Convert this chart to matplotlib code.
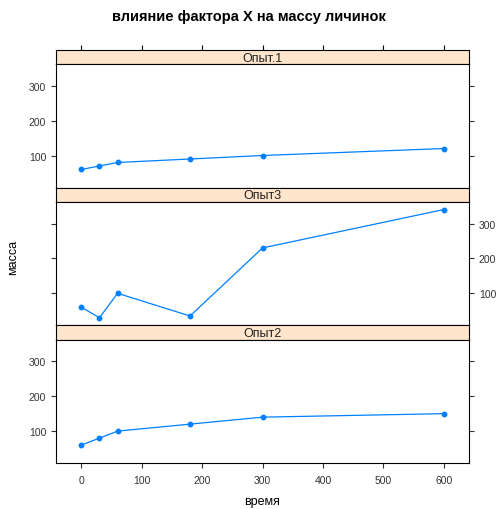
import numpy as np
import matplotlib
matplotlib.use('Agg')
import matplotlib.pyplot as plt

plt.rcParams['font.family'] = ['Liberation Sans', 'DejaVu Sans']

# данные
time = [0, 30, 60, 180, 300, 600]
panels = ['Опыт.1', 'Опыт3', 'Опыт2']
mass = {
    'Опыт.1': [60, 70, 80, 90, 100, 120],
    'Опыт3': [60, 30, 100, 35, 230, 340],
    'Опыт2': [60, 80, 100, 120, 140, 150],
}
yticks = [100, 200, 300]
xticks = [0, 100, 200, 300, 400, 500, 600]

# пределы как в lattice (отступ 7%)
def pad(lo, hi, p=0.07):
    d = (hi - lo) * p
    return lo - d, hi + d

all_y = np.concatenate([mass[k] for k in panels])
ylim = pad(all_y.min(), all_y.max())
xlim = pad(min(time), max(time))

W, H = 497, 510
fig = plt.figure(figsize=(W / 100, H / 100), dpi=100)

left, right = 56, 469
top = 50.7
strip_h = 14.5
plot_h = 123.3
col = '#0080ff'
strip_col = '#ffe5cc'

for i, name in enumerate(panels):
    y0 = top + i * (strip_h + plot_h)
    # полоска с названием
    sax = fig.add_axes([left / W, 1 - (y0 + strip_h) / H, (right - left) / W, strip_h / H])
    sax.set_facecolor(strip_col)
    sax.set_xlim(xlim)
    sax.set_yticks([])
    sax.text(0.5, 0.45, name, transform=sax.transAxes, ha='center', va='center',
             fontsize=9, color='#222222')
    for s in sax.spines.values():
        s.set_linewidth(0.8)
    if i == 0:
        sax.xaxis.tick_top()
        sax.set_xticks(xticks)
        sax.set_xticklabels([])
        sax.tick_params(axis='x', direction='out', length=3.5, width=0.8)
    else:
        sax.set_xticks([])

    # панель
    ax = fig.add_axes([left / W, 1 - (y0 + strip_h + plot_h) / H, (right - left) / W, plot_h / H])
    ax.plot(time, mass[name], '-o', color=col, lw=0.9, markersize=3.2)
    ax.set_xlim(xlim)
    ax.set_ylim(ylim)
    ax.set_yticks(yticks)
    for s in ax.spines.values():
        s.set_linewidth(0.8)
    ax.tick_params(axis='y', direction='out', length=3.5, width=0.8, labelsize=7.5,
                   left=True, right=True, labelleft=(i != 1), labelright=(i == 1),
                   colors='#333333')
    if i == 2:
        ax.set_xticks(xticks)
        ax.tick_params(axis='x', direction='out', length=3.5, width=0.8, labelsize=7.5,
                       colors='#333333', pad=5)
        ax.set_xlabel('время', fontsize=9, labelpad=7)
    else:
        ax.set_xticks([])

fig.text(0.5, 1 - 17 / H, 'влияние фактора X на массу личинок', ha='center', va='center',
         fontsize=10.5, fontweight='bold')
fig.text(13 / W, 1 - 257 / H, 'масса', ha='center', va='center', rotation=90, fontsize=9)

fig.savefig('out.png', dpi=100)
